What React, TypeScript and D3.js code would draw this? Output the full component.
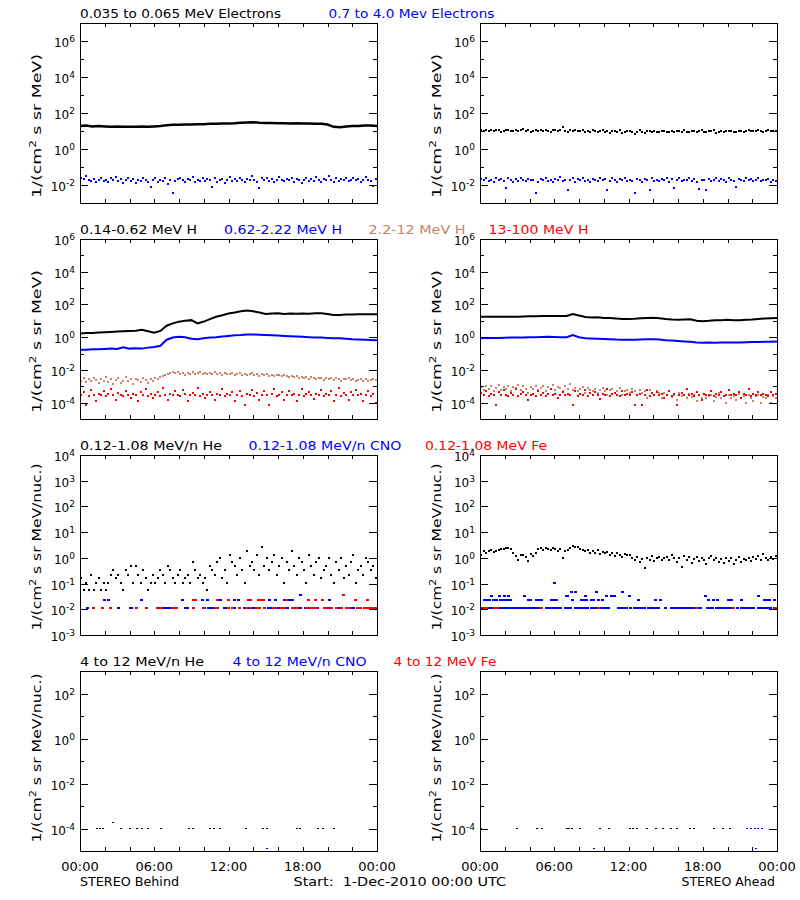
import React from "react";
import * as d3 from "d3";

// ---------------- axes / labels ----------------
const TIME_TICK_HOURS = [0, 2, 4, 6, 8, 10, 12, 14, 16, 18, 20, 22, 24];
const TIME_LABEL_HOURS = [0, 6, 12, 18, 24];
const TIME_LABELS = ["00:00", "06:00", "12:00", "18:00", "00:00"];

// ---------------- Row 1: electrons ----------------
const behindElecLow = [19,20,18,19,18,17,18,17,17,17,18,17,18,19,21,22,22,23,23,24,24,25,25,26,26,27,29,30,31,29,28,28,27,27,26,27,26,26,25,25,23,17,16,18,19,19,20,20,19];
const behindElecHigh = [
0.025,0.021,0.030,0.018,0.016,0.022,0.014,0.019,0.024,0.017,
0.020,0.015,0.023,0.018,0.027,0.016,0.021,0.013,0.019,0.025,
0.017,0.022,0.013,0.020,0.016,0.024,0.019,0.014,0.008,0.018,
0.026,0.015,0.020,0.017,0.023,0.012,0.019,0.0036,0.016,0.021,
0.024,0.018,0.015,0.022,0.019,0.028,0.014,0.020,0.017,0.023,
0.016,0.021,0.019,0.008,0.025,0.015,0.018,0.022,0.013,0.020,
0.027,0.017,0.021,0.016,0.024,0.019,0.014,0.022,0.018,0.030,
0.020,0.015,0.007,0.023,0.019,0.026,0.017,0.021,0.014,0.020,
0.028,0.018,0.016,0.022,0.019,0.025,0.015,0.021,0.018,0.013,
0.020,0.024,0.017,0.021,0.016,0.027,0.019,0.014,0.022,0.018,
0.031,0.020,0.015,0.023,0.017,0.021,0.019,0.026,0.016,0.020,
0.024,0.018,0.022,0.015,0.020,0.027,0.019,0.016,0.009,0.021];
const aheadElecLow = [
11,10,12,9.5,11,10,12,11,9,10,
11,12,10,9.5,11,10,12,13,10,11,
9,10,11,10,12,9.5,11,10,9,11,
12,10,11,16,10,9,11,10,12,9.5,
10,11,9,10,8.5,11,10,9,10,11,
9,10,8,9.5,10,9,11,7.5,9,10,
9.5,8.5,6.5,9,11,9,8,10,9.5,9,
10,8.5,9,10,9.5,9,8.5,10,9,9.5,
10,9,11,9,8.5,10,9.5,9,10,11,
8.5,9,10,9.5,11,8,9,10,9,10,
9.5,10,9,8.5,10,9.5,9,10,11,10,
9.5,10,11,10,9,10.5,11,10,9.5,10];
const aheadElecHigh = [
0.022,0.019,0.026,0.017,0.020,0.015,0.023,0.018,0.021,0.016,
0.007,0.024,0.019,0.014,0.021,0.017,0.025,0.019,0.016,0.022,
0.018,0.020,0.0036,0.015,0.021,0.019,0.024,0.017,0.020,0.014,
0.022,0.018,0.027,0.016,0.020,0.005,0.019,0.023,0.015,0.021,
0.018,0.025,0.017,0.020,0.014,0.022,0.019,0.016,0.024,0.018,
0.021,0.0055,0.017,0.023,0.019,0.015,0.021,0.018,0.026,0.016,
0.020,0.017,0.0036,0.022,0.019,0.015,0.021,0.018,0.005,0.024,
0.017,0.020,0.016,0.022,0.019,0.025,0.015,0.021,0.007,0.018,
0.023,0.016,0.020,0.019,0.026,0.017,0.021,0.015,0.006,0.020,
0.018,0.005,0.022,0.017,0.019,0.024,0.016,0.021,0.018,0.015,
0.023,0.019,0.017,0.008,0.022,0.020,0.016,0.025,0.018,0.021,
0.017,0.019,0.023,0.016,0.020,0.018,0.022,0.015,0.019,0.017];

// ---------------- Row 2: protons ----------------
const behindH1 = [1.7,1.8,1.8,1.9,2.0,2.1,2.2,2.3,2.4,2.5,2.8,2.3,1.9,2.4,5.0,7.0,8.9,10,11,7.0,9.0,12.6,17.8,22,28,32,38,42,38,32,26,28,29,26,28,27.5,28,27.5,29,29,26,23,23,24,24,25,25,25,25];
const behindH2 = [0.17,0.17,0.18,0.18,0.19,0.2,0.19,0.24,0.2,0.21,0.2,0.23,0.25,0.3,0.7,0.95,1.05,1.0,0.8,0.75,0.85,0.95,1.0,1.1,1.2,1.3,1.35,1.45,1.45,1.4,1.35,1.3,1.25,1.2,1.15,1.1,1.05,1.0,0.95,0.95,0.9,0.85,0.85,0.8,0.75,0.72,0.7,0.68,0.66];
const behindH3 = [
0.0022,0.0030,0.0018,0.0026,0.0020,0.0032,0.0024,0.0015,0.0028,0.0021,
0.0035,0.0019,0.0027,0.0013,0.0024,0.0030,0.0017,0.0022,0.0038,0.0020,
0.0026,0.0014,0.0029,0.0023,0.0018,0.0031,0.0025,0.0016,0.0027,0.0022,
0.0033,0.0028,0.0036,0.0042,0.0050,0.0058,0.0066,0.0074,0.0062,0.0070,
0.0058,0.0065,0.0052,0.0068,0.0060,0.0075,0.0055,0.0063,0.0070,0.0057,
0.0064,0.0053,0.0068,0.0059,0.0072,0.0056,0.0062,0.0050,0.0066,0.0058,
0.0054,0.0061,0.0048,0.0057,0.0065,0.0052,0.0059,0.0046,0.0055,0.0062,
0.0050,0.0057,0.0044,0.0053,0.0048,0.0060,0.0045,0.0052,0.0041,0.0049,
0.0046,0.0040,0.0050,0.0043,0.0038,0.0045,0.0036,0.0042,0.0034,0.0039,
0.0032,0.0037,0.0029,0.0035,0.0031,0.0027,0.0034,0.0030,0.0025,0.0033,
0.0028,0.0031,0.0024,0.0030,0.0027,0.0022,0.0029,0.0026,0.0032,0.0023,
0.0027,0.0021,0.0025,0.0029,0.0022,0.0026,0.0020,0.0024,0.0027,0.0023];
const behindH4 = [
0.00030,0.00045,0.00007,0.00025,0.00060,0.00030,0.00013,0.00035,0.00028,0.00050,
0.00025,0.00032,0.00070,0.00028,0.00015,0.00038,0.00030,0.00026,0.00055,0.00030,
0.00020,0.00035,0.00028,0.00013,0.00042,0.00030,0.00065,0.00026,0.00032,0.00018,
0.00030,0.00045,0.00025,0.00080,0.00030,0.00014,0.00036,0.00028,0.00050,0.00030,
0.00025,0.00060,0.00032,0.00013,0.00028,0.00040,0.00030,0.00075,0.00026,0.00034,
0.00020,0.00030,0.00045,0.00028,0.00015,0.00036,0.00030,0.00070,0.00025,0.00032,
0.00028,0.00045,0.00013,0.00030,0.00055,0.00026,0.00007,0.00034,0.00030,0.00060,
0.00025,0.00038,0.00015,0.00030,0.00048,0.00028,0.00007,0.00032,0.00065,0.00026,
0.00030,0.00042,0.00014,0.00030,0.00055,0.00028,0.00035,0.00013,0.00030,0.00070,
0.00026,0.00032,0.00045,0.00028,0.00016,0.00036,0.00030,0.00060,0.00025,0.00034,
0.00028,0.00050,0.00013,0.00030,0.00080,0.00026,0.00038,0.00030,0.00015,0.00045,
0.00030,0.00060,0.00028,0.00034,0.00013,0.00030,0.00048,0.00026,0.00036,0.00009];
const aheadH1 = [18,18,17.5,18,18,17.5,18,18.5,19,19,19.5,20,20,20,19.5,26,21,17,16,16.5,15,15,14,13,13,13.5,14.5,15,15.5,14.5,13,12,11.5,12,12.5,10,9.5,10,11,11,11.5,11,11,11.5,12,13,14,14.5,15];
const aheadH2 = [0.87,0.88,0.9,0.9,0.92,0.95,0.95,0.97,0.98,1.0,1.02,1.05,1.03,1.0,1.0,1.35,1.0,0.85,0.82,0.8,0.78,0.76,0.72,0.7,0.69,0.7,0.72,0.74,0.75,0.72,0.66,0.62,0.58,0.55,0.52,0.48,0.46,0.47,0.46,0.48,0.47,0.47,0.48,0.49,0.5,0.5,0.52,0.53,0.54];
const aheadH3 = [
0.0009,0.0006,0.0011,0.0007,0.0010,0.0005,0.0008,0.0012,0.0006,0.0009,
0.0007,0.0011,0.0005,0.0009,0.0008,0.0012,0.0006,0.0010,0.0007,0.0004,
0.0009,0.0007,0.0011,0.0006,0.0008,0.0010,0.0005,0.0009,0.0007,0.0012,
0.0006,0.0009,0.0008,0.0005,0.0010,0.0007,0.0013,0.0006,0.0008,0.0005,
0.0007,0.0009,0.0004,0.0008,0.0006,0.0005,0.0007,0.0004,0.0006,0.0008,
0.0005,0.0003,0.0006,0.0007,0.0004,0.0005,0.0008,0.0003,0.0005,0.0006,
0.0004,0.0007,0.0005,0.0003,0.0006,0.0004,0.0005,0.0002,0.0006,0.0004,
0.0003,0.0005,0.0004,0.0002,0.0004,0.0003,0.0005,0.00022,0.0003,0.00015,
0.0004,0.00025,0.0003,0.00018,0.00035,0.00022,0.0003,0.00012,0.00028,0.0002,
0.00035,0.00018,0.00025,0.0003,0.00012,0.00022,0.0004,0.00018,0.00026,0.0001,
0.0003,0.0002,0.00025,0.00015,0.00032,0.00018,0.00024,0.0001,0.00028,0.0002,
0.00012,0.00025,0.0003,0.0001,0.00022,0.00018,0.00028,0.0001,0.00024,0.0002];
const aheadH4 = [
0.00040,0.00030,0.00055,0.00025,0.00035,0.00030,0.00007,0.00045,0.00028,0.00060,
0.00030,0.00025,0.00038,0.00030,0.00070,0.00026,0.00032,0.00045,0.00028,0.00015,
0.00030,0.00036,0.00026,0.00055,0.00030,0.00040,0.00025,0.00032,0.00065,0.00028,
0.00034,0.00020,0.00030,0.00045,0.00028,0.00036,0.00030,0.00007,0.00050,0.00026,
0.00032,0.00030,0.00060,0.00025,0.00038,0.00030,0.00045,0.00028,0.00016,0.00034,
0.00030,0.00070,0.00026,0.00032,0.00040,0.00030,0.00025,0.00055,0.00028,0.00036,
0.00030,0.00045,0.00007,0.00028,0.00034,0.00007,0.00030,0.00060,0.00026,0.00038,
0.00030,0.00045,0.00028,0.00034,0.00018,0.00030,0.00050,0.00026,0.00032,0.00007,
0.00030,0.00040,0.00028,0.00065,0.00030,0.00034,0.00025,0.00045,0.00030,0.00014,
0.00036,0.00028,0.00030,0.00055,0.00026,0.00034,0.00030,0.00042,0.00025,0.00030,
0.00060,0.00028,0.00034,0.00030,0.00045,0.00020,0.00032,0.00030,0.00070,0.00026,
0.00034,0.00030,0.00042,0.00028,0.00036,0.00030,0.00025,0.00045,0.00030,0.00034];

// ---------------- Row 3: 0.12-1.08 MeV/n ions ----------------
const behindHeLow = [
0.17,0.055,0.11,0.055,0.22,0.055,0.11,0.17,0.055,0.11,
0.055,0.11,0.22,0.33,0.17,0.22,0.11,0.055,0.33,0.22,
0.47,0.11,0.47,0.22,0.11,0.33,0.17,0.055,0.11,0.22,
0.11,0.17,0.33,0.22,0.11,0.47,0.33,0.17,0.11,0.22,
0.33,0.11,0.17,0.22,0.11,0.68,0.33,0.17,0.22,0.11,
0.17,0.055,0.47,0.33,0.22,0.68,1.0,0.17,0.33,0.11,
1.35,0.68,0.47,0.22,1.0,0.33,0.11,1.8,0.47,0.68,
0.33,1.35,0.22,2.6,0.47,1.0,0.33,0.68,1.35,0.22,
0.47,1.0,0.11,0.68,0.33,1.8,0.47,0.22,1.0,0.68,
0.33,0.11,1.35,0.47,0.22,0.68,1.0,0.17,0.33,0.47,
1.0,0.22,0.11,0.68,0.33,1.0,0.17,0.47,0.22,0.68,
1.35,0.11,0.33,0.47,0.22,1.0,0.68,0.33,0.47,0.17];
const behindCNOLow = [
  { value: 0.024, hours: [1.94,2.32,5.0,8.25,9.87,10.27,11.38,12.46,12.84,15.35,15.8,16.56,16.77,17.0,17.2,20.2] },
  { value: 0.035, hours: [17.8] },
  { value: 0.011, hours: [0.6,3.1,4.1,4.2,6.8,7.0,7.2,8.5,8.7,10.0,10.1,10.4,10.6,10.8,11.65,11.8,12.5,13.3,13.65,14.0,14.2,15.2,15.35,15.5,16.0,16.3,16.55,16.75,17.6,17.8,18.2,18.45,19.2,19.9,20.05,20.2,20.9,21.5,21.7,21.9,22.1,22.5,23.4,23.5] },
];
const behindFeLow = [
  { value: 0.024, hours: [9.15,9.3,11.1,12.0,13.65,13.8,14.4,14.6,14.86,16.7,18.5,19.0,19.6,22.3,23.25] },
  { value: 0.035, hours: [21.3] },
  { value: 0.011, hours: [1.13,1.78,2.48,4.6,5.37,6.3,6.45,6.6,7.5,7.66,7.8,9.2,10.0,10.95,11.1,12.0,12.3,12.9,13.45,13.8,14.27,14.5,14.9,15.6,15.8,16.3,16.55,17.2,17.4,17.6,18.3,18.6,18.85,19.1,19.75,20.0,20.3,20.75,21.1,21.55,21.75,22.4,22.7,23.0,23.25,23.5,23.7,23.85] },
];
const aheadHeLow = [
1.35,1.8,1.6,1.8,2.0,1.7,1.9,2.1,
2.3,2.2,2.5,2.4,2.2,
1.5,1.2,0.8,1.35,
1.3,1.1,0.75,1.4,1.2,1.6,
2.2,2.4,2.0,2.5,2.3,2.1,2.4,
2.2,1.9,2.3,1.0,1.8,2.0,2.4,
2.9,2.7,2.6,
2.3,2.0,1.8,2.1,1.5,1.9,1.6,2.0,1.4,1.7,
1.5,1.7,1.3,1.6,1.2,1.5,1.35,1.1,1.4,1.25,1.3,
1.0,0.85,1.1,0.7,0.9,0.42,1.0,0.8,1.2,0.75,0.95,1.1,0.85,1.0,
1.1,0.8,1.3,0.95,0.7,1.0,0.45,1.2,0.8,1.05,0.65,0.9,1.1,0.75,1.0,0.85,0.6,0.95,1.2,
0.8,1.0,0.7,0.9,0.65,0.95,0.75,1.0,0.6,0.85,1.05,0.7,0.9,
0.8,1.0,0.75,1.1,0.9,1.2,0.85,1.4,1.0,0.8,1.1,0.9,1.2];
const aheadCNOLow = [
  { value: 0.011, hours: [0.1,0.3,0.5,0.7,0.9,1.5,1.7,1.9,2.1,2.3,2.5,2.7,2.9,3.1,3.3,3.5,3.7,3.9,4.1,4.3,4.5,4.7,5.4,5.6,5.8,6.0,6.3,6.5,6.9,7.1,7.3,7.7,7.9,8.1,8.3,8.5,8.7,9.0,9.2,9.4,9.8,10.0,10.2,10.4,11.2,11.4,11.6,11.8,12.2,12.5,12.7,12.9,13.1,13.3,13.6,13.8,14.0,14.2,14.4,15.0,15.5,15.7,15.9,16.1,16.3,16.5,16.7,16.9,17.1,17.3,17.6,17.8,18.4,18.6,18.8,19.1,19.3,19.5,19.7,19.9,20.1,20.3,20.5,20.8,21.1,21.3,21.5,21.7,21.9,22.1,22.5,22.7,22.9,23.1,23.3,23.5,23.8] },
  { value: 0.024, hours: [0.4,0.6,0.8,1.1,1.3,1.65,1.85,2.05,2.25,2.45,3.9,4.1,4.6,4.8,5.0,5.8,6.0,6.2,7.5,8.2,8.4,8.6,9.0,9.2,9.6,9.9,12.8,14.2,14.6,18.5,18.85,19.2,20.1,20.35,21.1,23.0,23.2,23.4,23.8] },
  { value: 0.033, hours: [0.9,1.6,2.0,2.3,3.6,7.0,7.1,8.5,10.2,10.6,10.9,12.1,18.2,22.5] },
  { value: 0.045, hours: [7.4,7.7,9.4,11.5] },
  { value: 0.11, hours: [6.0] },
];
const aheadFeLow = [
  { value: 0.011, hours: [0.3,0.5,1.2,1.4,5.0,9.6,17.5,20.5,23.9] },
];

// ---------------- Row 4: 4-12 MeV/n ions ----------------
const behindHeHigh = [
  { value: 1e-4, hours: [1.35,1.6,1.85,3.3,4.0,4.6,5.0,5.5,6.55,8.8,9.1,10.5,10.8,11.3,13.4,14.8,15.1,17.5,17.8,19.2,19.6,20.5] },
  { value: 1.9e-4, hours: [2.7] },
];
const behindCNOHigh = [{ value: 1.3e-5, hours: [15.1] }];
const aheadHeHigh = [
  { value: 1e-4, hours: [2.97,4.6,5.0,7.0,7.2,7.4,8.1,9.7,10.4,12.1,12.4,12.7,13.5,14.2,14.8,15.4,15.9,17.0,17.3,18.9,19.6,20.2] },
];
const aheadCNOHigh = [
  { value: 1e-4, hours: [0.05,21.6,21.9,22.2,22.5,22.8] },
  { value: 1.3e-5, hours: [9.2,22.3] },
];

// ---------------- styling / layout ----------------
const FONT = '"DejaVu Sans", "Liberation Sans", Arial, sans-serif';
const BLACK = "#000000";
const BLUE = "#0000ff";
const BROWN = "#c98467";
const RED = "#ff0000";
const W = 297;
const H = 180;
const COL_X = [80, 480];
const ROW_TOP = [23, 239, 455, 671];

type Level = { value: number; hours: number[] };
type Mark =
  | { kind: "line"; color: string; values: number[]; width: number }
  | { kind: "dots"; color: string; values: number[]; size: [number, number] }
  | { kind: "levels"; color: string; levels: Level[]; size: [number, number] };

const lineMark = (values: number[], color: string, width = 2): Mark => ({ kind: "line", color, values, width });
const dotMark = (values: number[], color: string, size: [number, number] = [2, 2]): Mark => ({ kind: "dots", color, values, size });
const levelMark = (levels: Level[], color: string, size: [number, number] = [3, 2]): Mark => ({ kind: "levels", color, levels, size });

type Title = { text: string; x: number; w: number; color: string };
type Row = {
  domain: [number, number];
  labeled: number[];
  unit: string;
  labelCenter: number;
  labelLen: number;
  titles: Title[];
  panels: Mark[][];
};

const ROWS: Row[] = [
  {
    domain: [1e-3, 1e7],
    labeled: [6, 4, 2, 0, -2],
    unit: "MeV)",
    labelCenter: 126,
    labelLen: 144,
    titles: [
      { text: "0.035 to 0.065 MeV Electrons", x: 80, w: 201, color: BLACK },
      { text: "0.7 to 4.0 Mev Electrons", x: 328.5, w: 166, color: BLUE },
    ],
    panels: [
      [lineMark(behindElecLow, BLACK, 2.5), dotMark(behindElecHigh, BLUE)],
      [dotMark(aheadElecLow, BLACK, [2, 2]), dotMark(aheadElecHigh, BLUE)],
    ],
  },
  {
    domain: [1e-5, 1e6],
    labeled: [6, 4, 2, 0, -2, -4],
    unit: "MeV)",
    labelCenter: 341.5,
    labelLen: 143,
    titles: [
      { text: "0.14-0.62 MeV H", x: 80, w: 117, color: BLACK },
      { text: "0.62-2.22 MeV H", x: 224, w: 118, color: BLUE },
      { text: "2.2-12 MeV H", x: 368.5, w: 97, color: BROWN },
      { text: "13-100 MeV H", x: 488.5, w: 100, color: RED },
    ],
    panels: [
      [lineMark(behindH1, BLACK), lineMark(behindH2, BLUE), dotMark(behindH3, BROWN), dotMark(behindH4, RED)],
      [lineMark(aheadH1, BLACK), lineMark(aheadH2, BLUE), dotMark(aheadH3, BROWN), dotMark(aheadH4, RED)],
    ],
  },
  {
    domain: [1e-3, 1e4],
    labeled: [4, 3, 2, 1, 0, -1, -2, -3],
    unit: "MeV/nuc.)",
    labelCenter: 547,
    labelLen: 167,
    titles: [
      { text: "0.12-1.08 MeV/n He", x: 80, w: 142, color: BLACK },
      { text: "0.12-1.08 MeV/n CNO", x: 248.5, w: 153, color: BLUE },
      { text: "0.12-1.08 MeV Fe", x: 425, w: 122, color: RED },
    ],
    panels: [
      [dotMark(behindHeLow, BLACK), levelMark(behindCNOLow, BLUE), levelMark(behindFeLow, RED)],
      [dotMark(aheadHeLow, BLACK), levelMark(aheadCNOLow, BLUE), levelMark(aheadFeLow, RED)],
    ],
  },
  {
    domain: [1e-5, 1e3],
    labeled: [2, 0, -2, -4],
    unit: "MeV/nuc.)",
    labelCenter: 758,
    labelLen: 169,
    titles: [
      { text: "4 to 12 MeV/n He", x: 80, w: 124, color: BLACK },
      { text: "4 to 12 MeV/n CNO", x: 232.5, w: 134, color: BLUE },
      { text: "4 to 12 MeV Fe", x: 393.5, w: 103, color: RED },
    ],
    panels: [
      [levelMark(behindHeHigh, BLACK, [2, 1]), levelMark(behindCNOHigh, BLUE, [2, 1])],
      [levelMark(aheadHeHigh, BLACK, [2, 1]), levelMark(aheadCNOHigh, BLUE, [2, 1])],
    ],
  },
];

function Panel({ row, ri, col }: { row: Row; ri: number; col: number }) {
  const x0 = COL_X[col];
  const top = ROW_TOP[ri];
  const x = d3.scaleLinear().domain([0, 24]).range([x0, x0 + W]);
  const y = d3.scaleLog().domain(row.domain).range([top + H, top]);
  const lo = Math.round(Math.log10(row.domain[0]));
  const hi = Math.round(Math.log10(row.domain[1]));
  const decades = d3.range(lo, hi + 1);
  const clipId = `clip-${ri}-${col}`;
  const marks = row.panels[col];

  return (
    <g>
      <defs>
        <clipPath id={clipId}>
          <rect x={x0} y={top} width={W} height={H} />
        </clipPath>
      </defs>
      <g clipPath={`url(#${clipId})`}>
        {marks.map((m, mi) => {
          if (m.kind === "line") {
            const n = m.values.length;
            const pts: [number, number][] = m.values.map((v, i) => [(i * 24) / (n - 1), v]);
            const path = d3
              .line<[number, number]>()
              .x((d) => x(d[0]))
              .y((d) => y(d[1]))(pts);
            return <path key={mi} d={path || ""} fill="none" stroke={m.color} strokeWidth={m.width} strokeLinejoin="miter" />;
          }
          if (m.kind === "dots") {
            const n = m.values.length;
            const step = 24 / n;
            return (
              <g key={mi} fill={m.color}>
                {m.values.map((v, i) => (
                  <rect
                    key={i}
                    x={Math.round(x(step / 2 + i * step) - m.size[0] / 2)}
                    y={Math.round(y(v) - m.size[1] / 2)}
                    width={m.size[0]}
                    height={m.size[1]}
                  />
                ))}
              </g>
            );
          }
          return (
            <g key={mi} fill={m.color}>
              {m.levels.map((lv, li) =>
                lv.hours.map((h, hi2) => (
                  <rect
                    key={`${li}-${hi2}`}
                    x={Math.round(x(h) - m.size[0] / 2)}
                    y={Math.round(y(lv.value) - m.size[1] / 2)}
                    width={m.size[0]}
                    height={m.size[1]}
                  />
                ))
              )}
            </g>
          );
        })}
      </g>

      <rect x={x0 + 0.5} y={top + 0.5} width={W} height={H} fill="none" stroke="#000" strokeWidth={1} shapeRendering="crispEdges" />

      {decades.map((e) => {
        const yy = Math.round(y(Math.pow(10, e))) + 0.5;
        const major = row.labeled.includes(e);
        const len = major ? 8 : 4;
        return (
          <g key={`yt${e}`}>
            <line x1={x0} x2={x0 + len} y1={yy} y2={yy} stroke="#000" shapeRendering="crispEdges" />
            <line x1={x0 + W} x2={x0 + W - len} y1={yy} y2={yy} stroke="#000" shapeRendering="crispEdges" />
            {major && (
              <text x={x0 - 5} y={yy + 5.5} textAnchor="end" fontSize={12} fill="#000">
                10<tspan dy={-5} fontSize={9}>{String(e)}</tspan>
              </text>
            )}
          </g>
        );
      })}

      {TIME_TICK_HOURS.map((h) => {
        const xx = Math.round(x(h)) + 0.5;
        return (
          <g key={`xt${h}`}>
            <line x1={xx} x2={xx} y1={top + H} y2={top + H - 4} stroke="#000" shapeRendering="crispEdges" />
            <line x1={xx} x2={xx} y1={top} y2={top + 4} stroke="#000" shapeRendering="crispEdges" />
          </g>
        );
      })}

      {ri === ROWS.length - 1 &&
        TIME_LABEL_HOURS.map((h, i) => (
          <text key={`xl${i}`} x={x(h)} y={top + H + 20} textAnchor="middle" fontSize={13} fill="#000">
            {TIME_LABELS[i]}
          </text>
        ))}

      <text
        transform={`translate(${x0 - 39},${row.labelCenter}) rotate(-90)`}
        textAnchor="middle"
        fontSize={13}
        fill="#000"
        textLength={row.labelLen}
        lengthAdjust="spacingAndGlyphs"
      >
        1/(cm<tspan dy={-5} fontSize={9}>2</tspan>
        <tspan dy={5}>{` s sr ${row.unit}`}</tspan>
      </text>
    </g>
  );
}

export default function App() {
  return (
    <svg
      width={800}
      height={900}
      style={{ position: "absolute", left: 0, top: 0, background: "#fff" }}
      fontFamily={FONT}
    >
      <rect x={0} y={0} width={800} height={900} fill="#fff" />
      {ROWS.map((row, ri) => (
        <g key={ri}>
          {row.titles.map((t, ti) => (
            <text
              key={ti}
              x={t.x}
              y={ROW_TOP[ri] - 5.5}
              fill={t.color}
              fontSize={13}
              textLength={t.w}
              lengthAdjust="spacingAndGlyphs"
            >
              {t.text}
            </text>
          ))}
          <Panel row={row} ri={ri} col={0} />
          <Panel row={row} ri={ri} col={1} />
        </g>
      ))}
      <text x={80} y={886} fontSize={13} textLength={99} lengthAdjust="spacingAndGlyphs">
        STEREO Behind
      </text>
      <text x={293.5} y={886} fontSize={13} textLength={212.5} lengthAdjust="spacingAndGlyphs" style={{ whiteSpace: "pre" }}>
        {"Start:  1-Dec-2010 00:00 UTC"}
      </text>
      <text x={681.5} y={886} fontSize={13} textLength={93.5} lengthAdjust="spacingAndGlyphs">
        STEREO Ahead
      </text>
    </svg>
  );
}
